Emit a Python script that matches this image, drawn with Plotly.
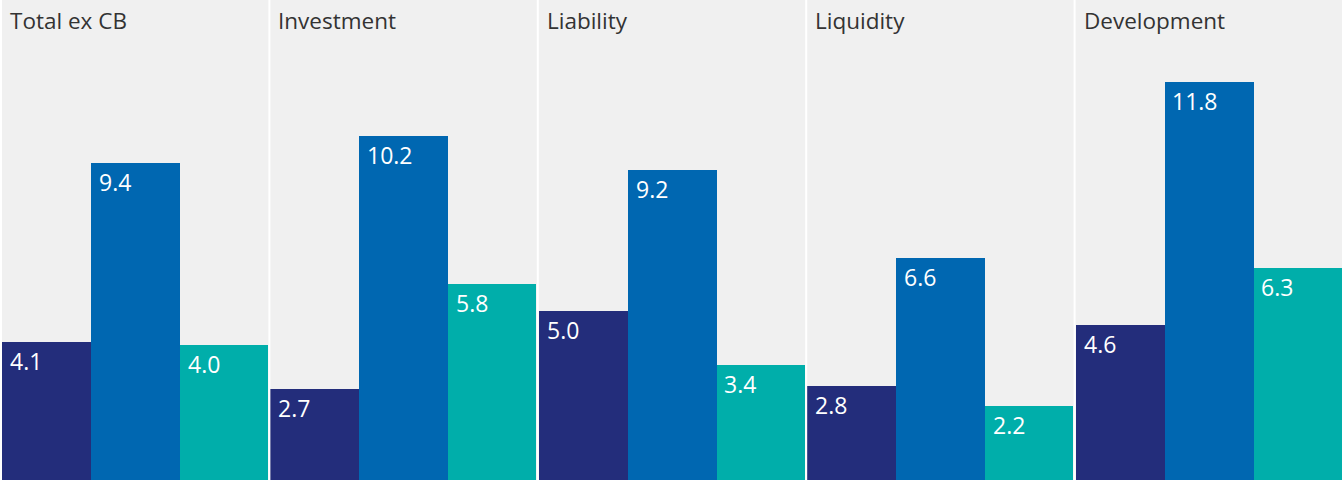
import plotly.graph_objects as go
from plotly.subplots import make_subplots

panels = ["Total ex CB", "Investment", "Liability", "Liquidity", "Development"]
series_a = [4.1, 2.7, 5.0, 2.8, 4.6]
series_b = [9.4, 10.2, 9.2, 6.6, 11.8]
series_c = [4.0, 5.8, 3.4, 2.2, 6.3]
colors = ["#232D7B", "#0067B1", "#00AEAA"]

FONT = "Open Sans"
fig = make_subplots(rows=1, cols=5, horizontal_spacing=2 / 1340)

for i, name in enumerate(panels):
    vals = [series_a[i], series_b[i], series_c[i]]
    xs = [0, 1, 2]
    fig.add_trace(go.Bar(x=xs, y=vals, width=1.0, marker=dict(color=colors, line=dict(width=0)),
                         showlegend=False, hoverinfo="skip"), row=1, col=i + 1)
    ax = "" if i == 0 else str(i + 1)
    for xv, v in zip(xs, vals):
        fig.add_annotation(x=xv - 0.5, y=v, xref="x" + ax, yref="y" + ax,
                           text=f"{v:.1f}", showarrow=False, xanchor="left", yanchor="top",
                           xshift=6, yshift=-1, font=dict(family=FONT, size=23, color="white"))
    fig.add_annotation(x=0, y=1, xref="x" + ax + " domain", yref="y" + ax + " domain",
                       text=name, showarrow=False, xanchor="left", yanchor="top",
                       xshift=6, yshift=-3, font=dict(family=FONT, size=22.5, color="#333333"))
    fig.update_xaxes(range=[-0.5, 2.5], visible=False, fixedrange=True, row=1, col=i + 1)
    fig.update_yaxes(range=[0, 14.24], visible=False, fixedrange=True, row=1, col=i + 1)

fig.update_layout(width=1342, height=481, margin=dict(l=2, r=0, t=0, b=1),
                  paper_bgcolor="white", plot_bgcolor="#F0F0F0", bargap=0)
fig.write_html("out.html", post_script="document.body.style.margin='0';",
               config={"displayModeBar": False})
